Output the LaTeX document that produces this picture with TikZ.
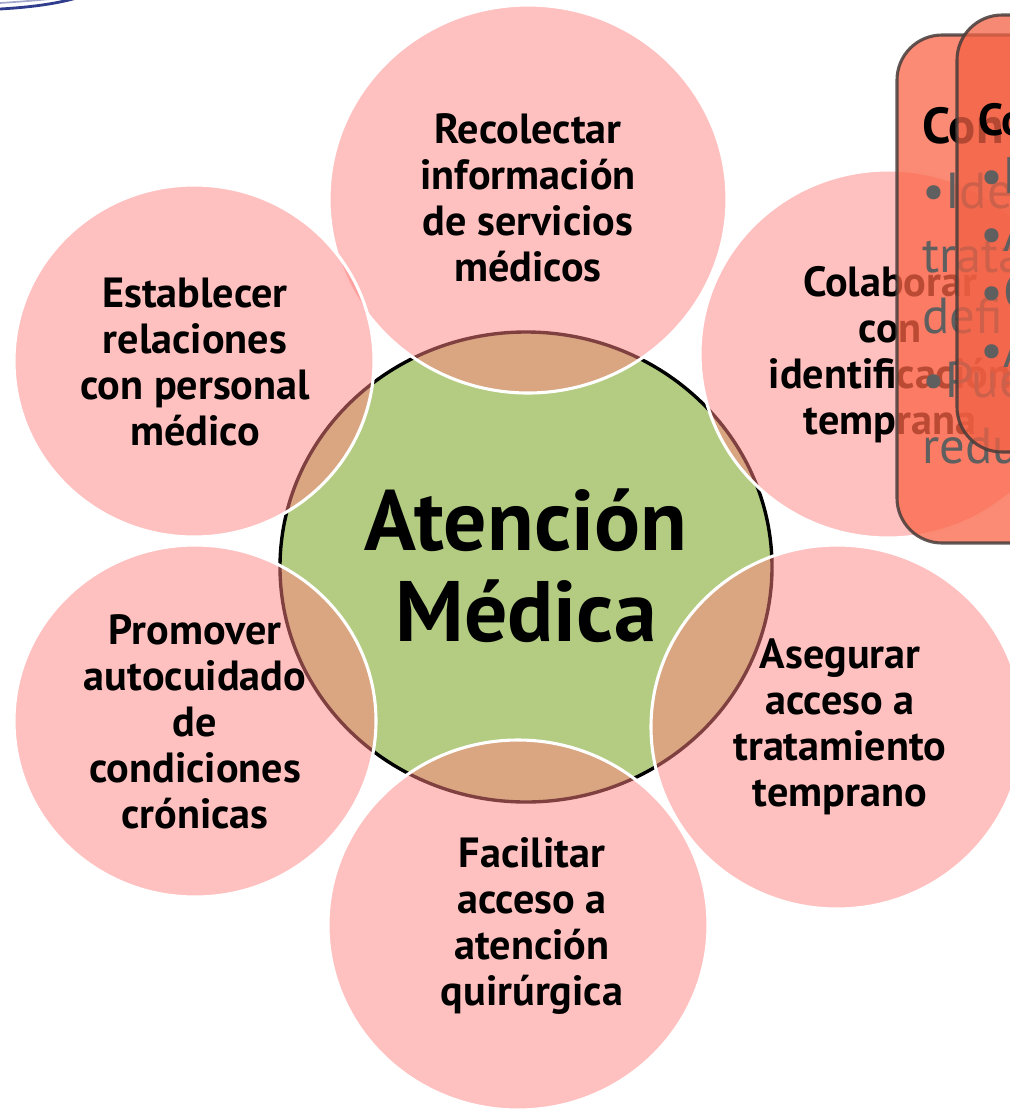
\documentclass[tikz,border=0pt]{standalone}
\usepackage{fontspec}
\setmainfont{PT Sans}

\definecolor{satpink}{RGB}{255,129,129}
\definecolor{coregreen}{RGB}{179,204,130}
\definecolor{boxsalmon}{RGB}{250,100,70}
\definecolor{boxedge}{RGB}{70,60,58}
\definecolor{boxtext}{RGB}{95,95,95}
\definecolor{swoosh}{RGB}{48,60,140}

\begin{document}
\begin{tikzpicture}[x=0.025cm, y=-0.025cm,
  core/.style={fill=coregreen, draw=black, line width=2.4pt},
  sat/.style={fill=satpink, fill opacity=0.5, draw=white, line width=2.2pt},
  lbl/.style={align=center, inner sep=0pt, font=\bfseries\fontsize{30}{32.7}\selectfont},
  card/.style={fill=boxsalmon, fill opacity=0.75, draw=boxedge, draw opacity=0.85, line width=2.2pt, rounded corners=32pt},
  cardline/.style={anchor=base west, inner sep=0pt, text=boxtext, font=\fontsize{36}{42}\selectfont}]

\useasboundingbox (0,0) rectangle (1010,1113);
\clip (0,0) rectangle (1010,1113);

% corner of the slide
\draw[swoosh!45, line width=1.2pt] (0,3) .. controls (30,1) and (55,-1) .. (75,-4);
\draw[swoosh, line width=2pt] (0,9) .. controls (35,7) and (60,3) .. (80,-3);

% centre
\path[core] (526,567) ellipse [x radius=246, y radius=235];

% satellites
\path[sat] (528,199) ellipse [x radius=199, y radius=194];
\path[sat] (888,354) ellipse [x radius=188, y radius=184];
\path[sat] (837,727) ellipse [x radius=186, y radius=182];
\path[sat] (518,925) ellipse [x radius=190, y radius=185];
\path[sat] (195,721) ellipse [x radius=181, y radius=176];
\path[sat] (194,361) ellipse [x radius=180, y radius=176];

\node[align=center, inner sep=0pt, font=\bfseries\fontsize{61}{65}\selectfont] (medica) at (526,566) {Atención\\Médica};

\node[lbl] (recolectar) at (528,198) {Recolectar\\información\\de servicios\\médicos};
\node[lbl] (colaborar) at (890,355) {Colaborar\\con\\identificación\\temprana};
\node[lbl] (asegurar) at (840,727) {Asegurar\\acceso a\\tratamiento\\temprano};
\node[lbl] (facilitar) at (532,926) {Facilitar\\acceso a\\atención\\quirúrgica};
\node[lbl] (promover) at (195,722) {Promover\\autocuidado\\de\\condiciones\\crónicas};
\node[lbl] (establecer) at (195,362) {Establecer\\relaciones\\con personal\\médico};

% cards of the next slide, cut off
\path[card] (897,35) rectangle (1080,543);
\node[anchor=base west, inner sep=0pt, font=\bfseries\fontsize{36}{40}\selectfont] (cardA) at (922,143) {Con};
\foreach \txt/\yy in {•Ide/208, trata/272, defi/333, •Pue/397, redu/463}
  \node[cardline] at (922,\yy) {\txt};

\path[card, fill=boxsalmon!97!black] (957,15) rectangle (1090,452);
\node[anchor=base west, inner sep=0pt, font=\bfseries\fontsize{32}{38}\selectfont] (cardB) at (978,135) {Co};
\foreach \txt/\yy in {•N/193, •A/251, •C/309, •A/367}
  \node[cardline] at (980,\yy) {\txt};
\end{tikzpicture}
\end{document}
